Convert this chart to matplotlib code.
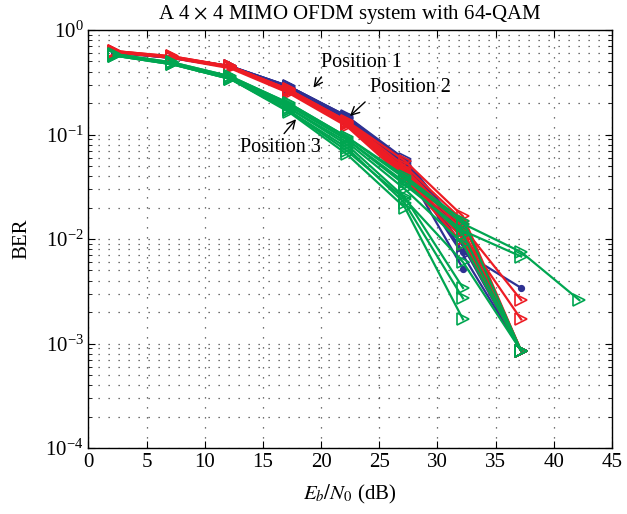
import numpy as np
import matplotlib
matplotlib.use("Agg")
import matplotlib.pyplot as plt
from matplotlib.ticker import LogLocator, NullFormatter

plt.rcParams['font.family'] = ['Liberation Serif', 'DejaVu Serif']
plt.rcParams['mathtext.fontset'] = 'stix'

nan = np.nan
snr = [2.2, 7.2, 12.2, 17.2, 22.2, 27.2, 32.2, 37.2, 42.2]

pos1 = [
    [0.62, 0.55, 0.45, 0.29, 0.150, 0.058, 0.0120, 0.00085, nan],
    [0.61, 0.54, 0.44, 0.28, 0.145, 0.055, 0.0100, 0.00085, nan],
    [0.62, 0.55, 0.44, 0.28, 0.145, 0.052, 0.0085, 0.00085, nan],
    [0.61, 0.54, 0.44, 0.28, 0.140, 0.050, 0.0070, 0.00085, nan],
    [0.62, 0.54, 0.45, 0.29, 0.150, 0.054, 0.0075, 0.0034, nan],
    [0.61, 0.55, 0.44, 0.28, 0.142, 0.048, 0.0052, nan, nan],
    [0.62, 0.55, 0.45, 0.29, 0.148, 0.056, 0.0110, 0.00085, nan],
]
pos2 = [
    [0.63, 0.56, 0.45, 0.27, 0.135, 0.056, 0.0165, 0.00085, nan],
    [0.62, 0.55, 0.44, 0.26, 0.130, 0.047, 0.0130, 0.0026, nan],
    [0.62, 0.55, 0.44, 0.26, 0.128, 0.042, 0.0110, 0.0017, nan],
    [0.63, 0.56, 0.45, 0.27, 0.132, 0.045, 0.0120, 0.00085, nan],
    [0.62, 0.55, 0.44, 0.26, 0.125, 0.040, 0.0100, 0.00085, nan],
    [0.61, 0.54, 0.43, 0.25, 0.120, 0.038, 0.0090, 0.00085, nan],
    [0.62, 0.55, 0.44, 0.26, 0.128, 0.043, 0.0140, 0.00085, nan],
    [0.63, 0.55, 0.45, 0.27, 0.135, 0.050, 0.0150, 0.00085, nan],
]
pos3 = [
    [0.59, 0.49, 0.36, 0.20, 0.095, 0.038, 0.0140, 0.0075, 0.0026],
    [0.58, 0.48, 0.35, 0.19, 0.090, 0.033, 0.0120, 0.0068, nan],
    [0.58, 0.48, 0.35, 0.18, 0.080, 0.025, 0.0034, nan, nan],
    [0.57, 0.47, 0.34, 0.17, 0.075, 0.022, 0.0027, nan, nan],
    [0.57, 0.47, 0.34, 0.165, 0.065, 0.020, 0.0017, nan, nan],
    [0.58, 0.48, 0.35, 0.19, 0.090, 0.035, 0.0110, 0.00085, nan],
    [0.59, 0.49, 0.36, 0.20, 0.095, 0.040, 0.0150, 0.00085, nan],
    [0.58, 0.48, 0.35, 0.18, 0.085, 0.030, 0.0090, 0.00085, nan],
    [0.57, 0.47, 0.34, 0.17, 0.070, 0.024, 0.0060, 0.00085, nan],
]

c_blue = '#2E3192'
c_red = '#ED1C24'
c_green = '#00A651'

fig = plt.figure(figsize=(6.27, 5.14), dpi=100)
ax = fig.add_axes([0.141, 0.1284, 0.835, 0.8132])

x = np.array(snr)
for i, c in enumerate(pos1):
    m = 'o' if i in (4, 5) else '>'
    ax.plot(x, c, color=c_blue, lw=1.6, marker=m, ms=4 if m == 'o' else 8,
            mfc=c_blue if m == 'o' else 'none', mew=1.2)
for c in pos2:
    ax.plot(x, c, color=c_red, lw=1.6, marker='>', ms=8, mfc='none', mew=1.2)
for c in pos3:
    ax.plot(x, c, color=c_green, lw=1.6, marker='>', ms=8, mfc='none', mew=1.2)

ax.set_yscale('log')
ax.set_xlim(0, 45)
ax.set_ylim(1e-4, 1)
ax.set_xticks(np.arange(0, 46, 5))
ax.yaxis.set_major_locator(LogLocator(base=10, numticks=10))
ax.yaxis.set_minor_locator(LogLocator(base=10, subs=np.arange(2, 10), numticks=20))
ax.yaxis.set_minor_formatter(NullFormatter())
ax.tick_params(which='both', direction='in', top=True, right=True, labelsize=15)
ax.tick_params(which='major', length=5)
ax.tick_params(which='minor', length=3)
ax.grid(True, which='major', axis='both', linestyle=(0, (1, 7)), color='#444444', lw=0.9)
ax.grid(True, which='minor', axis='y', linestyle=(0, (1, 7)), color='#444444', lw=0.9)
for s in ax.spines.values():
    s.set_linewidth(1.0)

ax.set_title('A 4 $\\times$ 4 MIMO OFDM system with 64-QAM', fontsize=15, pad=8)
ax.set_xlabel('$E_b/N_0$ (dB)', fontsize=15, labelpad=8)
ax.set_ylabel('BER', fontsize=15, labelpad=10)

ap = dict(arrowstyle='->', color='black', lw=1.0)
ax.annotate('Position 1', xy=(19.2, 0.267), xytext=(20.0, 0.49), fontsize=14.5,
            va='center', ha='left',
            arrowprops=dict(ap, relpos=(0.05, 0.0)))
ax.annotate('Position 2', xy=(22.3, 0.144), xytext=(24.2, 0.279), fontsize=14.5,
            va='center', ha='left',
            arrowprops=dict(ap, relpos=(0.0, 0.0)))
ax.annotate('Position 3', xy=(18.0, 0.147), xytext=(13.0, 0.0743), fontsize=14.5,
            va='center', ha='left',
            arrowprops=dict(ap, relpos=(0.5, 1.0)))

fig.savefig('out.png', dpi=100)
